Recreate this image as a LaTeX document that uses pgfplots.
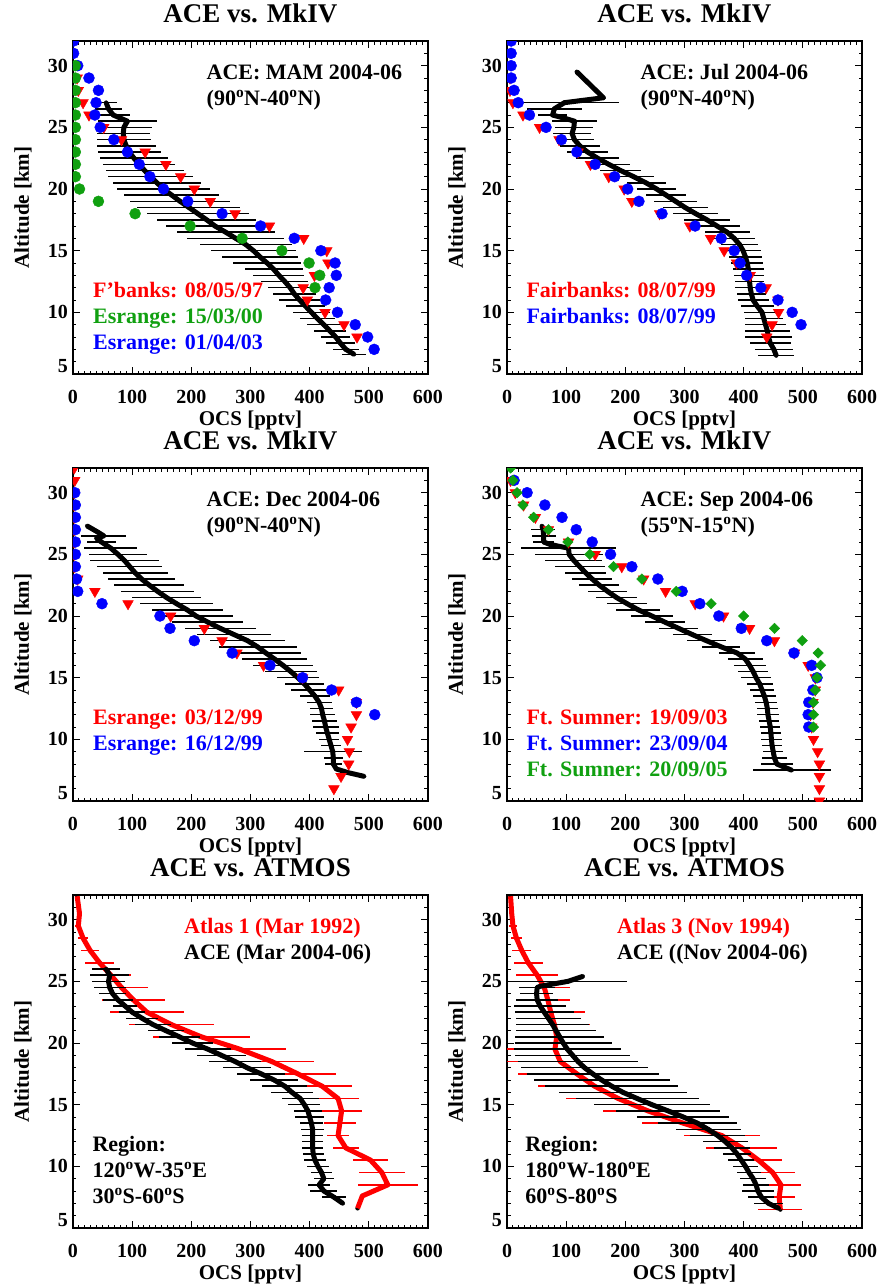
\documentclass[border=0pt]{standalone}
\usepackage{fontspec}
\setmainfont{Liberation Serif}
\usepackage{pgfplots}
\pgfplotsset{compat=1.18}
\usepackage{pgfplotstable}
\definecolor{mred}{HTML}{FF0000}
\definecolor{mblue}{HTML}{0000FF}
\definecolor{mgreen}{HTML}{10A010}
\newcommand\fsT{\fontsize{22}{22}\selectfont\bfseries}

% ACE profiles: altitude, OCS, error half-width
\pgfplotstableread{
y x e
27.0 56 19
26.5 60 23
26.0 68 28
25.5 92 50
25.0 86 48
24.5 85 45
24.0 86 46
23.5 90 50
23.0 95 53
22.5 103 57
22.0 112 61
21.5 121 66
21.0 131 71
20.5 142 75
20.0 153 78
19.5 167 80
19.0 181 84
18.5 196 87
18.0 211 86
17.5 226 84
17.0 240 83
16.5 258 83
16.0 275 82
15.5 292 78
15.0 305 72
14.5 316 65
14.0 328 57
13.5 339 49
13.0 348 43
12.5 358 40
12.0 367 38
11.5 374 36
11.0 383 34
10.5 393 33
10.0 403 32
9.5 413 30
9.0 424 29
8.5 434 27
8.0 444 25
7.5 452 24
7.0 461 22
6.6 475 20
}\aceA
\pgfplotstableread{
y x e
29.5 118 0
27.4 163 0
27.0 97 92
26.5 80 46
26.0 77 24
25.7 100 0
25.5 114 38
25.0 113 32
24.5 110 32
24.0 114 33
23.5 123 34
23.0 136 35
22.5 153 36
22.0 172 36
21.5 192 35
21.0 214 34
20.5 235 33
20.0 253 33
19.5 269 34
19.0 285 36
18.5 301 38
18.0 319 38
17.5 338 39
17.0 355 39
16.5 372 38
16.0 384 35
15.5 393 32
15.0 399 30
14.5 403 28
14.0 406 27
13.5 408 26
13.0 409 25
12.5 410 25
12.0 411 25
11.5 413 25
11.0 416 26
10.5 423 28
10.0 431 30
9.5 434 32
9.0 437 35
8.5 440 38
8.0 442 40
7.5 445 35
7.0 451 32
6.5 455 30
}\aceB
\pgfplotstableread{
y x e
27.3 24 0
26.8 42 0
26.5 52 38
26.3 40 0
26.0 48 25
25.5 64 45
25.0 76 49
24.5 87 59
24.0 96 55
23.5 105 55
23.0 116 57
22.5 129 59
22.0 143 62
21.5 158 59
21.0 175 62
20.5 193 60
20.0 208 62
19.5 228 60
19.0 249 60
18.5 272 62
18.0 295 64
17.5 312 66
17.0 326 60
16.5 341 55
16.0 355 50
15.5 368 44
15.0 380 36
14.5 391 33
14.0 400 32
13.5 409 25
13.0 416 21
12.5 420 20
12.0 422 21
11.5 425 21
11.0 427 22
10.5 430 20
10.0 433 17
9.5 436 17
9.0 439 49
8.5 440 16
8.0 440 14
7.6 445 0
7.3 465 0
7.0 492 0
}\aceC
\pgfplotstableread{
y x e
27.3 59 0
27.0 61 20
26.5 62 20
26.0 62 18
25.8 73 0
25.5 104 80
25.0 105 58
24.5 113 48
24.0 123 42
23.5 133 35
23.0 144 34
22.5 156 34
22.0 170 33
21.5 185 35
21.0 203 34
20.5 222 37
20.0 245 36
19.5 267 33
19.0 290 33
18.5 313 33
18.0 337 33
17.5 362 32
17.0 389 30
16.5 403 29
16.0 410 27
15.5 416 25
15.0 421 25
14.5 427 22
14.0 431 20
13.5 435 19
13.0 438 19
12.5 440 18
12.0 441 18
11.5 443 17
11.0 445 17
10.5 446 17
10.0 447 17
9.5 448 17
9.0 450 17
8.5 452 21
8.0 456 27
7.5 481 66
}\aceD
\pgfplotstableread{
y x e
26.0 56 24
25.5 62 33
25.0 60 28
24.5 62 27
24.0 67 23
23.5 76 25
23.0 88 21
22.5 100 22
22.0 117 27
21.5 135 31
21.0 157 31
20.5 180 34
20.0 202 35
19.5 228 39
19.0 251 41
18.5 274 44
18.0 294 41
17.5 318 41
17.0 340 41
16.5 358 38
16.0 370 35
15.5 384 31
15.0 391 27
14.5 397 24
14.0 400 24
13.5 403 20
13.0 405 19
12.5 405 18
12.0 405 18
11.5 405 18
11.0 406 18
10.5 409 18
10.0 414 18
9.5 420 18
9.0 424 17
8.5 416 18
8.0 424 23
7.5 441 20
7.0 456 0
}\aceE
\pgfplotstableread{
y x e
31.9 7 0
30.5 11 5
29.5 9 5
28.5 17 8
27.5 29 15
26.5 45 25
25.5 64 34
24.5 82 44
23.5 102 53
22.5 125 63
21.5 166 72
20.5 217 82
19.5 282 78
18.5 336 72
17.5 380 65
16.5 421 50
15.5 448 35
14.5 454 35
13.5 451 27
12.5 448 18
11.5 461 22
10.5 503 30
9.5 522 39
8.5 532 51
7.6 489 0
6.6 481 0
}\atlasA
\pgfplotstableread{
y x e
25.4 128 0
25.0 103 100
24.6 56 0
24.5 51 30
24.0 50 28
23.5 51 35
23.0 56 44
22.5 63 50
22.0 70 55
21.5 77 62
21.0 83 68
20.5 89 75
20.0 95 82
19.5 102 90
19.0 111 97
18.5 120 102
18.0 131 107
17.5 145 112
17.0 160 115
16.5 177 112
16.0 196 108
15.5 220 104
15.0 245 98
14.5 272 88
14.0 298 78
13.5 322 66
13.0 340 55
12.5 356 46
12.0 369 38
11.5 380 30
11.0 389 24
10.5 396 22
10.0 403 21
9.5 409 21
9.0 416 22
8.5 421 22
8.0 424 27
7.5 430 22
7.0 442 24
6.6 459 0
}\aceF
\pgfplotstableread{
y x e
31.9 6 0
30.5 8 4
29.5 10 7
28.5 16 10
27.5 25 16
26.5 36 25
25.5 51 35
24.5 63 43
23.5 69 38
22.5 74 58
21.5 80 60
20.5 84 70
19.5 81 82
18.5 90 90
17.5 118 100
16.5 148 95
15.5 188 88
14.5 238 76
13.5 298 69
12.5 363 64
11.5 397 60
10.5 425 39
9.5 449 37
8.5 463 34
7.5 460 27
6.5 462 37
}\atlasB

\pgfplotsset{
  idl/.style={
    scale only axis, width=355pt, height=333pt,
    xmin=0, xmax=600, ymin=5, ymax=32,
    xtick={0,100,...,600},
    ytick={5,10,...,35}, yticklabels={,10,15,20,25,30},
    extra y ticks={5}, extra y tick labels={5},
    extra y tick style={yticklabel style={yshift=8pt}},
    minor x tick num=9, minor y tick num=4,
    tick align=inside, major tick length=7pt, minor tick length=3.5pt,
    axis line style={line width=1.4pt},
    every tick/.style={black, line width=1pt},
    /pgf/number format/assume math mode=true,
    tick label style={font=\fontsize{20}{20}\selectfont\bfseries},
    xticklabel style={anchor=base, yshift=-29pt},
    yticklabel style={anchor=east, inner sep=0pt, xshift=-5pt},
    xlabel={OCS [pptv]}, ylabel={Altitude [km]},
    label style={font=\fontsize{21}{21}\selectfont\bfseries},
    xlabel style={at={(axis description cs:0.5,-0.156)}, anchor=base},
    ylabel style={at={(axis description cs:-0.124,0.5)}, anchor=base},
    title style={font=\fontsize{27}{27}\selectfont\bfseries,
      at={(axis description cs:0.5,1.037)}, anchor=base},
    clip marker paths=true,
  },
  bars/.style={only marks, mark=none, forget plot,
    error bars/.cd, x dir=both, x explicit, error mark=none,
    error bar style={#1, line width=1.5pt}},
  prof/.style={#1, line width=5pt, line join=round, mark=none},
  tri/.style={only marks, mark=triangle*, mark size=6.2pt, color=mred,
    mark options={rotate=180}},
  dot/.style={only marks, mark=*, mark size=5.5pt, color=#1},
  dia/.style={only marks, mark=square*, mark size=3.7pt, color=mgreen,
    mark options={rotate=45}},
}

\begin{document}
\begin{tikzpicture}
\useasboundingbox (0,0) rectangle (880pt,-1286pt);

% ---------- top left ----------
\begin{axis}[idl, at={(73pt,-374pt)}, anchor=south west, title={ACE vs. MkIV}]
\addplot[bars=black] table[x=x, y=y, x error=e] \aceA;
\addplot[prof=black] table[x=x, y=y] \aceA;
\addplot[tri] coordinates {(7,29) (9,28) (17,27) (27,26) (52,25) (82,24) (122,23) (157,22) (182,21) (205,20) (232,19) (274,18) (332,17) (390,16) (429,15) (431,14) (408,13) (389,12) (396,11) (426,10) (458,9) (480,8)};
\addplot[dot=mblue] coordinates {(1,32) (1,31) (8,30) (27,29) (43,28) (39,27) (37,26) (46,25) (69,24) (92,23) (112,22) (130,21) (153,20) (194,19) (252,18) (317,17) (374,16) (419,15) (443,14) (445,13) (433,12) (427,11) (447,10) (477,9) (498,8) (509,7)};
\addplot[dot=mgreen] coordinates {(4,30) (4,29) (4,28) (4,27) (4,26) (4,25) (4,24) (4,23) (4,22) (4,21) (11,20) (43,19) (105,18) (198,17) (286,16) (353,15) (399,14) (417,13) (409,12)};
\node[anchor=base west, font=\fsT] at (axis cs:220,28.9) {ACE: MAM 2004-06};
\node[anchor=base west, font=\fsT] at (axis cs:220,26.8) {(90\textsuperscript{o}N-40\textsuperscript{o}N)};
\node[anchor=base west, font=\fsT, text=mred] at (axis cs:28,11.2) {F'banks: 08/05/97};
\node[anchor=base west, font=\fsT, text=mgreen] at (axis cs:28,9.1) {Esrange: 15/03/00};
\node[anchor=base west, font=\fsT, text=mblue] at (axis cs:28,7.0) {Esrange: 01/04/03};
\end{axis}

% ---------- top right ----------
\begin{axis}[idl, at={(507pt,-374pt)}, anchor=south west, title={ACE vs. MkIV}]
\addplot[bars=black] table[x=x, y=y, x error=e] \aceB;
\addplot[prof=black] table[x=x, y=y] \aceB;
\addplot[tri] coordinates {(5,29) (5,28) (10,27) (27,26) (55,25) (88,24) (120,23) (141,22) (172,21) (198,20) (211,19) (258,18) (309,17) (344,16) (367,15) (388,14) (411,13) (438,12) (458,11) (459,10) (448,9) (439,8)};
\addplot[dot=mblue] coordinates {(7,32) (7,31) (7,30) (7,29) (12,28) (19,27) (38,26) (66,25) (92,24) (118,23) (149,22) (182,21) (204,20) (223,19) (262,18) (318,17) (362,16) (384,15) (394,14) (405,13) (429,12) (458,11) (482,10) (497,9)};
\node[anchor=base west, font=\fsT] at (axis cs:220,28.9) {ACE: Jul 2004-06};
\node[anchor=base west, font=\fsT] at (axis cs:220,26.8) {(90\textsuperscript{o}N-40\textsuperscript{o}N)};
\node[anchor=base west, font=\fsT, text=mred] at (axis cs:27,11.2) {Fairbanks: 08/07/99};
\node[anchor=base west, font=\fsT, text=mblue] at (axis cs:27,9.1) {Fairbanks: 08/07/99};
\end{axis}

% ---------- middle left ----------
\begin{axis}[idl, at={(73pt,-801pt)}, anchor=south west, title={ACE vs. MkIV}]
\addplot[bars=black] table[x=x, y=y, x error=e] \aceC;
\addplot[prof=black] table[x=x, y=y] \aceC;
\addplot[tri] coordinates {(2,32) (3,31) (2,30) (2,29) (2,28) (2,27) (2,26) (2,25) (2,24) (8,23) (37,22) (93,21) (165,20) (222,19) (252,18) (277,17) (322,16) (388,15) (449,14) (479,13) (479,12) (470,11) (464,10) (467,9) (466,8) (453,7) (441,6)};
\addplot[dot=mblue] coordinates {(3,30) (4,29) (4,28) (4,27) (4,26) (4,25) (4,24) (6,23) (8,22) (49,21) (147,20) (164,19) (205,18) (269,17) (333,16) (388,15) (437,14) (479,13) (510,12)};
\node[anchor=base west, font=\fsT] at (axis cs:220,28.9) {ACE: Dec 2004-06};
\node[anchor=base west, font=\fsT] at (axis cs:220,26.8) {(90\textsuperscript{o}N-40\textsuperscript{o}N)};
\node[anchor=base west, font=\fsT, text=mred] at (axis cs:28,11.2) {Esrange: 03/12/99};
\node[anchor=base west, font=\fsT, text=mblue] at (axis cs:28,9.1) {Esrange: 16/12/99};
\end{axis}

% ---------- middle right ----------
\begin{axis}[idl, at={(507pt,-801pt)}, anchor=south west, title={ACE vs. MkIV}]
\addplot[bars=black] table[x=x, y=y, x error=e] \aceD;
\addplot[prof=black] table[x=x, y=y] \aceD;
\addplot[tri] coordinates {(6,31) (14,30) (28,29) (48,28) (70,27) (104,26) (149,25) (194,24) (231,23) (268,22) (318,21) (366,20) (410,19) (452,18) (486,17) (509,16) (521,15) (521,14) (517,13) (513,12) (515,11) (518,10) (525,9) (528,8) (528,7) (528,6) (528,5)};
\addplot[dot=mblue] coordinates {(12,31) (34,30) (64,29) (93,28) (117,27) (144,26) (175,25) (211,24) (255,23) (296,22) (326,21) (358,20) (396,19) (439,18) (485,17) (515,16) (524,15) (517,14) (510,13) (509,12) (510,11)};
\addplot[dia] coordinates {(6,32) (10,31) (17,30) (27,29) (45,28) (70,27) (103,26) (140,25) (180,24) (228,23) (286,22) (345,21) (400,20) (452,19) (499,18) (526,17) (530,16) (524,15) (521,14) (518,13) (518,12) (518,11)};
\node[anchor=base west, font=\fsT] at (axis cs:220,28.9) {ACE: Sep 2004-06};
\node[anchor=base west, font=\fsT] at (axis cs:220,26.8) {(55\textsuperscript{o}N-15\textsuperscript{o}N)};
\node[anchor=base west, font=\fsT, text=mred] at (axis cs:27,11.2) {Ft. Sumner: 19/09/03};
\node[anchor=base west, font=\fsT, text=mblue] at (axis cs:27,9.1) {Ft. Sumner: 23/09/04};
\node[anchor=base west, font=\fsT, text=mgreen] at (axis cs:27,7.0) {Ft. Sumner: 20/09/05};
\end{axis}

% ---------- bottom left ----------
\begin{axis}[idl, at={(73pt,-1228pt)}, anchor=south west, title={ACE vs. ATMOS}]
\addplot[bars=mred] table[x=x, y=y, x error=e] \atlasA;
\addplot[prof=mred] table[x=x, y=y] \atlasA;
\addplot[bars=black] table[x=x, y=y, x error=e] \aceE;
\addplot[prof=black] table[x=x, y=y] \aceE;
\node[anchor=base west, font=\fsT, text=mred] at (axis cs:182,28.9) {Atlas 1 (Mar 1992)};
\node[anchor=base west, font=\fsT] at (axis cs:182,26.8) {ACE (Mar 2004-06)};
\node[anchor=base west, font=\fsT] at (axis cs:27,11.2) {Region:};
\node[anchor=base west, font=\fsT] at (axis cs:27,9.1) {120\textsuperscript{o}W-35\textsuperscript{o}E};
\node[anchor=base west, font=\fsT] at (axis cs:27,7.0) {30\textsuperscript{o}S-60\textsuperscript{o}S};
\end{axis}

% ---------- bottom right ----------
\begin{axis}[idl, at={(507pt,-1228pt)}, anchor=south west, title={ACE vs. ATMOS}]
\addplot[bars=mred] table[x=x, y=y, x error=e] \atlasB;
\addplot[prof=mred] table[x=x, y=y] \atlasB;
\addplot[bars=black] table[x=x, y=y, x error=e] \aceF;
\addplot[prof=black] table[x=x, y=y] \aceF;
\node[anchor=base west, font=\fsT, text=mred] at (axis cs:180,28.9) {Atlas 3 (Nov 1994)};
\node[anchor=base west, font=\fsT] at (axis cs:180,26.8) {ACE ((Nov 2004-06)};
\node[anchor=base west, font=\fsT] at (axis cs:25,11.2) {Region:};
\node[anchor=base west, font=\fsT] at (axis cs:25,9.1) {180\textsuperscript{o}W-180\textsuperscript{o}E};
\node[anchor=base west, font=\fsT] at (axis cs:25,7.0) {60\textsuperscript{o}S-80\textsuperscript{o}S};
\end{axis}
\end{tikzpicture}
\end{document}
